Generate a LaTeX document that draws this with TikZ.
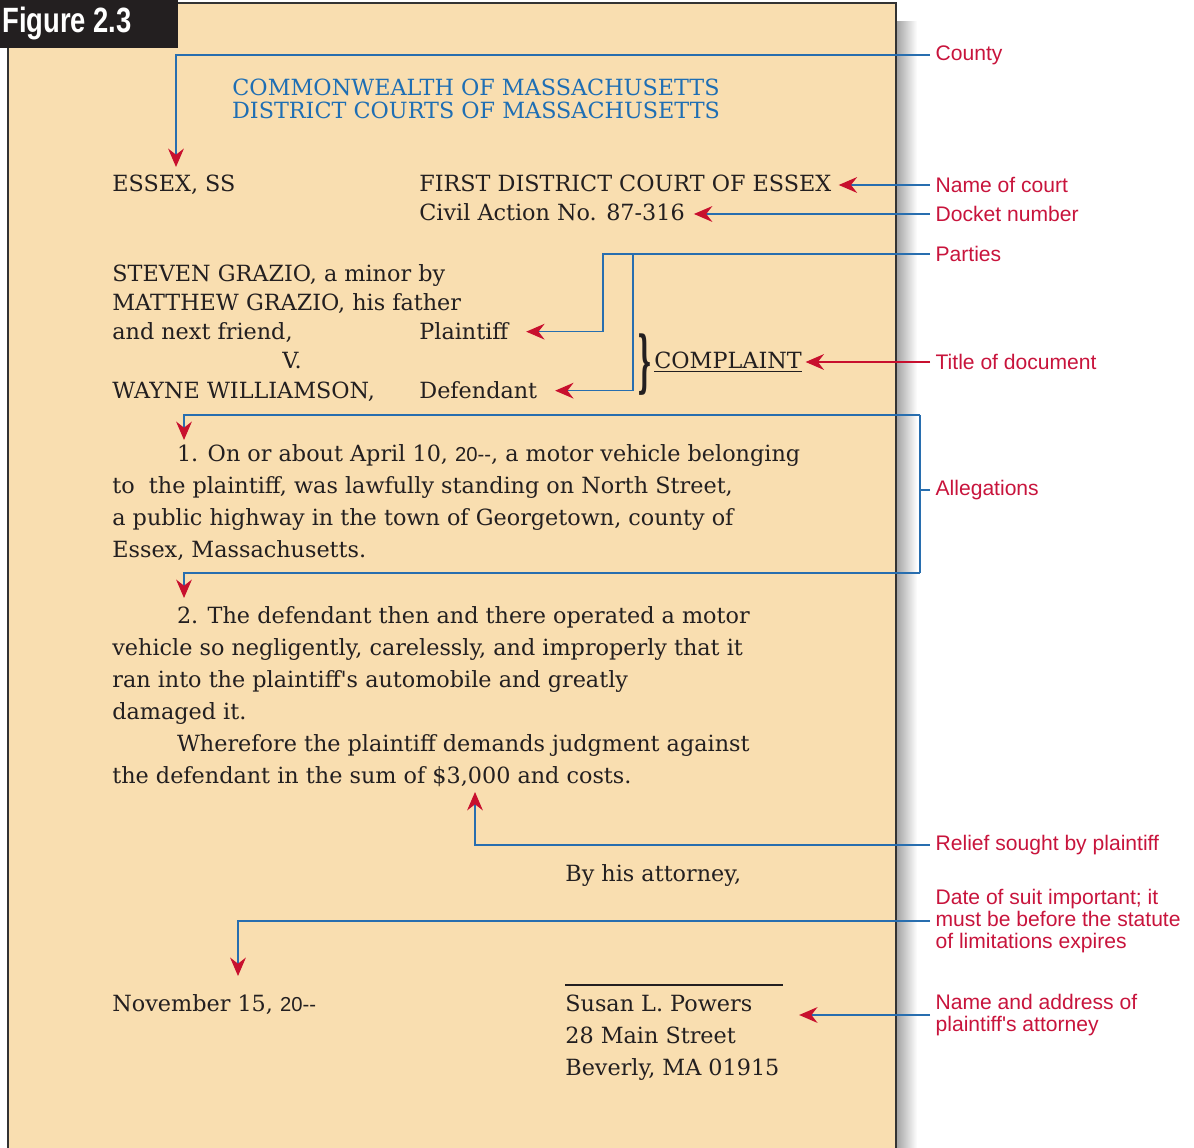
\documentclass[tikz,border=0pt]{standalone}
\usepackage{fontspec}
\setmainfont{DejaVu Serif}
\newfontfamily\notefont{Liberation Sans}
\newfontfamily\figfont[FakeStretch=0.78]{Liberation Sans}
\usetikzlibrary{arrows.meta}

\definecolor{paper}{RGB}{249,222,176}
\definecolor{ink}{RGB}{35,31,32}
\definecolor{headblue}{RGB}{30,110,180}
\definecolor{wireblue}{RGB}{40,110,175}
\definecolor{tipred}{RGB}{200,16,46}
\definecolor{notered}{RGB}{200,20,60}

\newcommand{\yr}{{\notefont\fontsize{11.5pt}{12pt}\selectfont 20-{}-}}

\tikzset {
    doctext/.style={anchor=base west, inner sep=0pt, text=ink, align=left,
        font=\fontsize{12.7pt}{18.3pt}\selectfont},
    headline/.style={anchor=base, inner sep=0pt, text=headblue, align=center,
        font=\fontsize{12.7pt}{13.6pt}\selectfont},
    callout/.style={anchor=west, inner sep=3pt, text=notered, align=left,
        font=\notefont\fontsize{12pt}{12.5pt}\selectfont},
    wire/.style={draw=wireblue, line width=0.7pt},
    link/.style={wire,
        -{Stealth[length=10.5pt, width=9pt, inset=3.5pt, color=tipred, fill=tipred]}},
}

\begin{document}
\begin{tikzpicture}[x=0.02cm, y=-0.02cm]
    \useasboundingbox (0,0) rectangle (1194,1148);

    % sheet with its shadow
    \fill[left color=black!35, right color=white] (897,22) rectangle (917,1160);
    \draw[fill=paper, draw=black!80, line width=0.8pt] (8,3) rectangle (896,1170);
    \fill[ink] (0,0) rectangle (178,48);
    \node[anchor=base west, inner sep=0pt, text=white,
        font=\figfont\bfseries\fontsize{20pt}{20pt}\selectfont] (figtab) at (2,33) {Figure 2.3};

    % the complaint (multi-line nodes sit on their last baseline)
    \node[headline] (commonwealth) at (476,119)
        {COMMONWEALTH OF MASSACHUSETTS\\DISTRICT COURTS OF MASSACHUSETTS};

    \node[doctext] (essex) at (112,192) {ESSEX, SS};
    \node[doctext] (court) at (419,192) {FIRST DISTRICT COURT OF ESSEX};
    \node[doctext] (docket) at (419,221) {Civil Action No. 87-316};

    \node[doctext, font=\fontsize{12.7pt}{16.7pt}\selectfont] (plaintiffs) at (112,340)
        {STEVEN GRAZIO, a minor by\\MATTHEW GRAZIO, his father\\and next friend,};
    \node[doctext] (plaintiffRole) at (419,340) {Plaintiff};
    \node[doctext, anchor=base] (versus) at (292,369) {V.};
    \node[doctext] (defendants) at (112,399) {WAYNE WILLIAMSON,};
    \node[doctext] (defendantRole) at (419,399) {Defendant};
    \node[inner sep=0pt, text=ink] (brace) at (645,365)
        {\scalebox{1.3}[3.8]{\bfseries\}}};
    \node[doctext] (complaint) at (654,369) {\underline{COMPLAINT}};

    \node[doctext] (allegation1) at (112,558)
        {\hspace*{36.8pt}1. On or about April 10, \yr, a motor vehicle belonging\\
        to\ \ the plaintiff, was lawfully standing on North Street,\\
        a public highway in the town of Georgetown, county of\\
        Essex, Massachusetts.};
    \node[doctext] (allegation2) at (112,784)
        {\hspace*{36.8pt}2. The defendant then and there operated a motor\\
        vehicle so negligently, carelessly, and improperly that it\\
        ran into the plaintiff\textquotesingle s automobile and greatly\\
        damaged it.\\
        \hspace*{36.8pt}Wherefore the plaintiff demands judgment against\\
        the defendant in the sum of \$3,000 and costs.};

    \node[doctext] (byAttorney) at (565,881) {By his attorney,};
    \node[doctext] (suitDate) at (112,1011) {November 15, \yr};
    \draw[ink, line width=0.8pt] (565,985) -- (783,985);
    \node[doctext, font=\fontsize{12.7pt}{18.1pt}\selectfont] (attorney) at (565,1075)
        {Susan L. Powers\\28 Main Street\\Beverly, MA 01915};

    % margin notes
    \node[callout] (countyNote) at (930,55) {County};
    \node[callout] (courtNote) at (930,185) {Name of court};
    \node[callout] (docketNote) at (930,214) {Docket number};
    \node[callout] (partiesNote) at (930,254) {Parties};
    \node[callout] (titleNote) at (930,362) {Title of document};
    \node[callout] (allegationNote) at (930,490) {Allegations};
    \node[callout] (reliefNote) at (930,845) {Relief sought by plaintiff};
    \node[callout] (dateNote) at (930,921)
        {Date of suit important; it\\must be before the statute\\of limitations expires};
    \node[callout] (counselNote) at (930,1015)
        {Name and address of\\plaintiff\textquotesingle s attorney};

    \coordinate (countyTip) at (176,167);
    \coordinate (forkPlaintiff) at (603,0);
    \coordinate (forkDefendant) at (633,0);
    \coordinate (allegTop) at (920,415);
    \coordinate (allegBottom) at (920,573);
    \coordinate (allegTip1) at (184,440);
    \coordinate (allegTip2) at (184,598);
    \coordinate (reliefTip) at (475,792);
    \coordinate (dateTip) at (238,976);

    \draw[link] (countyNote.west) -| (countyTip);
    \draw[link, shorten >=4pt] (courtNote.west) -- (courtNote.west -| court.east);
    \draw[link, shorten >=5pt] (docketNote.west) -- (docketNote.west -| docket.east);

    \draw[link, shorten >=10pt] (partiesNote.west) -- (partiesNote.west -| forkPlaintiff)
        |- (plaintiffRole.east);
    \draw[link, shorten >=10pt] (partiesNote.west -| forkDefendant) |- (defendantRole.east);

    \draw[link, draw=tipred, shorten >=2pt] (titleNote.west) -- (titleNote.west -| complaint.east);

    \draw[wire] (allegationNote.west) -- (allegationNote.west -| allegTop);
    \draw[wire] (allegTop) -- (allegBottom);
    \draw[link] (allegTop) -| (allegTip1);
    \draw[link] (allegBottom) -| (allegTip2);

    \draw[link] (reliefNote.west) -| (reliefTip);
    \draw[link] (dateNote.west) -| (dateTip);
    \draw[link, shorten >=11pt] (counselNote.west) -- (counselNote.west -| attorney.east);

\end{tikzpicture}
\end{document}
